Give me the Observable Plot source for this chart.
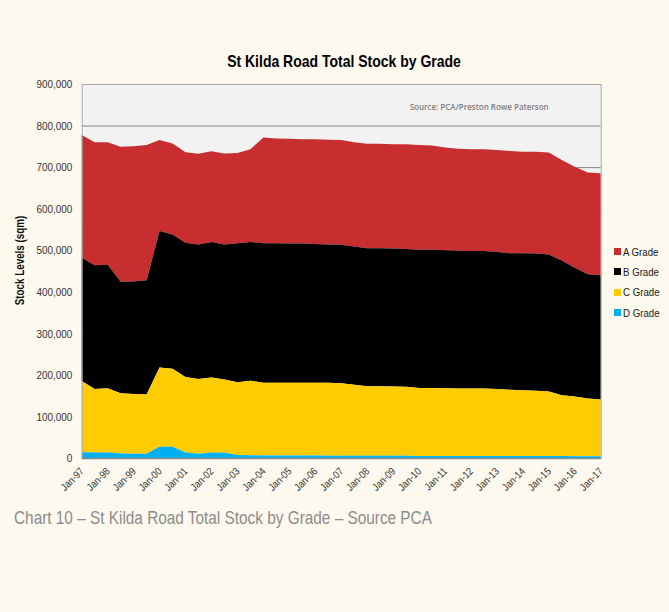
<!DOCTYPE html>
<html>
<head>
<meta charset="utf-8">
<script src="https://cdn.jsdelivr.net/npm/d3@7"></script>
<script src="https://cdn.jsdelivr.net/npm/@observablehq/plot@0.6"></script>
<style>
  html, body { margin: 0; padding: 0; background: #fdf9ee; }
  #page {
    position: relative; width: 669px; height: 612px; overflow: hidden;
    font-family: "Liberation Sans", Arial, sans-serif;
  }
  #chart { position: absolute; left: 0; top: 0; }
  #title {
    position: absolute; left: 0; width: 689px; top: 53px; line-height: 17px;
    text-align: center; font-weight: bold; font-size: 17px; color: #000;
  }
  #title span { display: inline-block; transform: scaleX(0.823); transform-origin: 50% 50%; white-space: nowrap; }
  #legend { position: absolute; left: 614px; top: 241.5px; }
  .item { height: 20.3px; display: flex; align-items: center; font-size: 11.5px; color: #1a1a1a; }
  .item span.t { display: inline-block; transform: scaleX(0.84); transform-origin: 0 50%; white-space: nowrap; }
  .sw { width: 7px; height: 7px; margin-right: 2px; }
  #caption {
    position: absolute; left: 14px; top: 509px; line-height: 18.5px;
    font-size: 18.5px; color: #8c8c8c; white-space: nowrap;
    transform: scaleX(0.83); transform-origin: 0 50%;
  }
</style>
</head>
<body>
<div id="page">
  <div id="chart"></div>
  <div id="title"><span>St Kilda Road Total Stock by Grade</span></div>
  <div id="legend"></div>
  <div id="caption">Chart 10 – St Kilda Road Total Stock by Grade – Source PCA</div>
</div>
<script>
// Half-yearly observation periods
const periods = [
  "Jan-97","Jul-97","Jan-98","Jul-98","Jan-99","Jul-99","Jan-00","Jul-00","Jan-01","Jul-01",
  "Jan-02","Jul-02","Jan-03","Jul-03","Jan-04","Jul-04","Jan-05","Jul-05","Jan-06","Jul-06",
  "Jan-07","Jul-07","Jan-08","Jul-08","Jan-09","Jul-09","Jan-10","Jul-10","Jan-11","Jul-11",
  "Jan-12","Jul-12","Jan-13","Jul-13","Jan-14","Jul-14","Jan-15","Jul-15","Jan-16","Jul-16",
  "Jan-17"
];

// Labelled ticks on the category axis
const xTicks = [
  "Jan-97","Jan-98","Jan-99","Jan-00","Jan-01","Jan-02","Jan-03","Jan-04","Jan-05","Jan-06",
  "Jan-07","Jan-08","Jan-09","Jan-10","Jan-11","Jan-12","Jan-13","Jan-14","Jan-15","Jan-16",
  "Jan-17"
];

const yTicks = [0, 100000, 200000, 300000, 400000, 500000, 600000, 700000, 800000, 900000];

const grades = ["A Grade", "B Grade", "C Grade", "D Grade"];
const gradeColors = ["#c82d30", "#000000", "#ffcc00", "#00b0f0"];

// Stock (sqm) by grade
const aGrade = [
  295000,296000,295000,325000,325000,325000,219000,219000,218000,218000,
  218000,219000,217000,223000,254000,252000,252000,251000,252000,252000,
  252000,251000,251000,251000,251000,252000,252000,251000,247000,245000,
  245000,245000,245000,246000,244000,245000,245000,242000,243000,245000,
  245000
];
const bGrade = [
  297000,298000,297000,268000,271000,275000,328000,323000,323000,324000,
  326000,325000,335000,334000,336000,336000,335000,335000,334000,333000,
  333000,333000,332500,332500,332000,331500,332500,332500,332000,332000,
  331000,331000,330000,329000,330000,330000,330000,324000,310000,299000,
  299000
];
const cGrade = [
  171000,152500,155000,145000,143500,143000,191000,188000,182000,180000,
  181000,176500,175000,179500,175000,175000,175000,175000,175000,175500,
  174500,170500,167000,167000,166500,166000,163500,163500,163000,162000,
  162000,162000,161000,159000,158000,157000,155000,146000,143500,138500,
  136500
];
const dGrade = [
  14000,13500,13000,11000,10500,10000,27000,27000,13000,10000,
  13000,12500,7000,6500,6000,6000,6000,6000,6000,5500,
  5500,5500,5500,5500,5500,5500,5000,5000,5000,5000,
  5000,5000,5000,5000,5000,5000,5000,5000,4500,4500,
  4500
];

const byGrade = {"A Grade": aGrade, "B Grade": bGrade, "C Grade": cGrade, "D Grade": dGrade};
const rows = grades.flatMap(g => periods.map((p, i) => ({period: p, grade: g, stock: byGrade[g][i]})));

const chart = Plot.plot({
  width: 669,
  height: 500,
  marginTop: 84,
  marginLeft: 81.7,
  marginRight: 68.3,
  marginBottom: 42,
  style: {background: "transparent", fontFamily: '"Liberation Sans", Arial, sans-serif', fontSize: "11px", color: "#333"},
  x: {type: "point", domain: periods, padding: 0},
  y: {domain: [0, 900000]},
  color: {domain: grades, range: gradeColors},
  marks: [
    Plot.frame({fill: "#f2f2f2", stroke: null}),
    Plot.gridY(yTicks.slice(1, -1), {stroke: "#868686", strokeOpacity: 1, strokeWidth: 1}),
    Plot.areaY(rows, {
      x: "period", y: "stock", fill: "grade",
      order: ["D Grade", "C Grade", "B Grade", "A Grade"]
    }),
    Plot.frame({stroke: "#a8a8a8", strokeWidth: 1}),
    Plot.ruleY([0], {stroke: "#8c8c8c", strokeWidth: 1.5}),
    Plot.axisY({
      ticks: yTicks, tickFormat: d3.format(","), tickSize: 0, tickPadding: 10,
      label: null, fontSize: 11.5, fill: "#333"
    }),
    Plot.axisX({
      ticks: xTicks, tickSize: 0, tickPadding: 11, tickRotate: -45,
      label: null, fontSize: 10.5, fill: "#333"
    }),
    Plot.text(["Stock Levels (sqm)"], {
      frameAnchor: "left", dx: -61.7, dy: -11, rotate: -90, textAnchor: "middle",
      fontWeight: "bold", fontSize: 12, fill: "#111"
    }),
    Plot.text(["Source: PCA/Preston Rowe Paterson"], {
      frameAnchor: "top-right", dx: -52.5, dy: 20, textAnchor: "end",
      fontFamily: '"Open Sans", "Noto Sans", sans-serif', fontWeight: 600,
      fontSize: 8, fill: "#808080"
    })
  ]
});
document.getElementById("chart").appendChild(chart);

// Condense axis and title text to a narrow face
function condense(el, k) {
  const len = el.getComputedTextLength();
  if (len > 0) {
    el.setAttribute("textLength", (len * k).toFixed(2));
    el.setAttribute("lengthAdjust", "spacingAndGlyphs");
  }
}
chart.querySelectorAll('g[aria-label="y-axis tick label"] text').forEach(t => condense(t, 0.86));
chart.querySelectorAll('g[aria-label="x-axis tick label"] text').forEach(t => condense(t, 0.86));
const textGroups = chart.querySelectorAll('g[aria-label="text"]');
if (textGroups.length) textGroups[0].querySelectorAll("text").forEach(t => condense(t, 0.82));

// Vertical legend listing grades from top of the stack downwards
const legend = document.getElementById("legend");
grades.forEach((g, i) => {
  const item = document.createElement("div");
  item.className = "item";
  const sw = document.createElement("span");
  sw.className = "sw";
  sw.style.background = gradeColors[i];
  const label = document.createElement("span");
  label.className = "t";
  label.textContent = g;
  item.appendChild(sw);
  item.appendChild(label);
  legend.appendChild(item);
});
</script>
</body>
</html>
